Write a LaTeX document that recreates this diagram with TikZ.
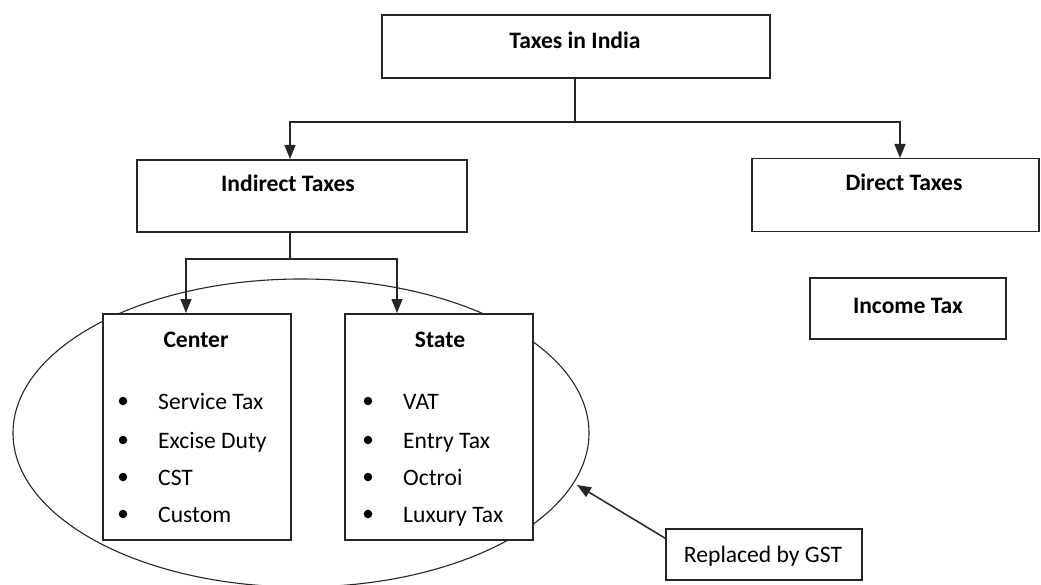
\documentclass[tikz,border=0pt]{standalone}
\usepackage{fontspec}
\setmainfont{Carlito}
\usetikzlibrary{arrows.meta,calc}
\begin{document}
\begin{tikzpicture}[x=1pt,y=-1pt,
  box/.style={draw=black!85,line width=1.5pt,fill=white,inner sep=0pt},
  ttl/.style={anchor=base,font=\fontsize{23.6}{28}\selectfont\bfseries,inner sep=0pt},
  itm/.style={anchor=base west,font=\fontsize{23.6}{28}\selectfont,inner sep=0pt},
  dot/.style={circle,fill=black,inner sep=0pt,minimum size=8.5pt},
  ln/.style={draw=black!85,line width=1.5pt},
  arr/.style={ln,-{Triangle[length=14pt,width=11pt]}}]
\useasboundingbox (0,0) rectangle (1041,585);
% ellipse
\draw[black!85,line width=1.1pt] (301,433) ellipse [x radius=288, y radius=154];
% boxes
\node[box,minimum width=388pt,minimum height=63pt] (top) at (576,46.5) {};
\node[box,minimum width=330pt,minimum height=72pt] (ind) at (302,196) {};
\node[box,minimum width=287pt,minimum height=73pt] (dir) at (895.5,195) {};
\node[box,minimum width=196pt,minimum height=61pt] (inc) at (908,308.5) {};
\node[box,minimum width=188pt,minimum height=226pt] (cen) at (197,427) {};
\node[box,minimum width=188pt,minimum height=226pt] (sta) at (439,427) {};
\node[box,minimum width=196pt,minimum height=51pt] (gst) at (764,554.5) {};
% titles
\node[ttl] at (575,49) {Taxes in India};
\node[ttl] at (288,192) {Indirect Taxes};
\node[ttl] at (904,191) {Direct Taxes};
\node[ttl] at (908,313) {Income Tax};
\node[ttl] at (196,347) {Center};
\node[ttl] at (440,347) {State};
\node[anchor=base,inner sep=0pt,font=\fontsize{23.6}{28}\selectfont] at (763,562) {Replaced by GST};
% lists
\foreach \y/\t in {409/Service Tax,448/Excise Duty,485/CST,522/Custom}{
  \node[dot] at (123,\y-8) {};
  \node[itm] at (158,\y) {\t};
}
\foreach \y/\t in {409/VAT,448/Entry Tax,485/Octroi,522/Luxury Tax}{
  \node[dot] at (368,\y-8) {};
  \node[itm] at (403,\y) {\t};
}
% connectors
\coordinate (j1) at (575,122);
\coordinate (indin) at (290,159);
\coordinate (dirin) at (900,158);
\draw[ln] (top.south -| j1) -- (j1);
\draw[arr] (j1) -| (indin);
\draw[arr] (j1) -| (dirin);
\coordinate (j2) at (290,259);
\coordinate (cenin) at (186,313);
\coordinate (stain) at (397,313);
\draw[ln] (ind.south -| j2) -- (j2);
\draw[arr] (j2) -| (cenin);
\draw[arr] (j2) -| (stain);
\coordinate (tip) at (577,485);
\draw[arr] ($(gst.north west)+(0,10)$) -- (tip);
\end{tikzpicture}
\end{document}
